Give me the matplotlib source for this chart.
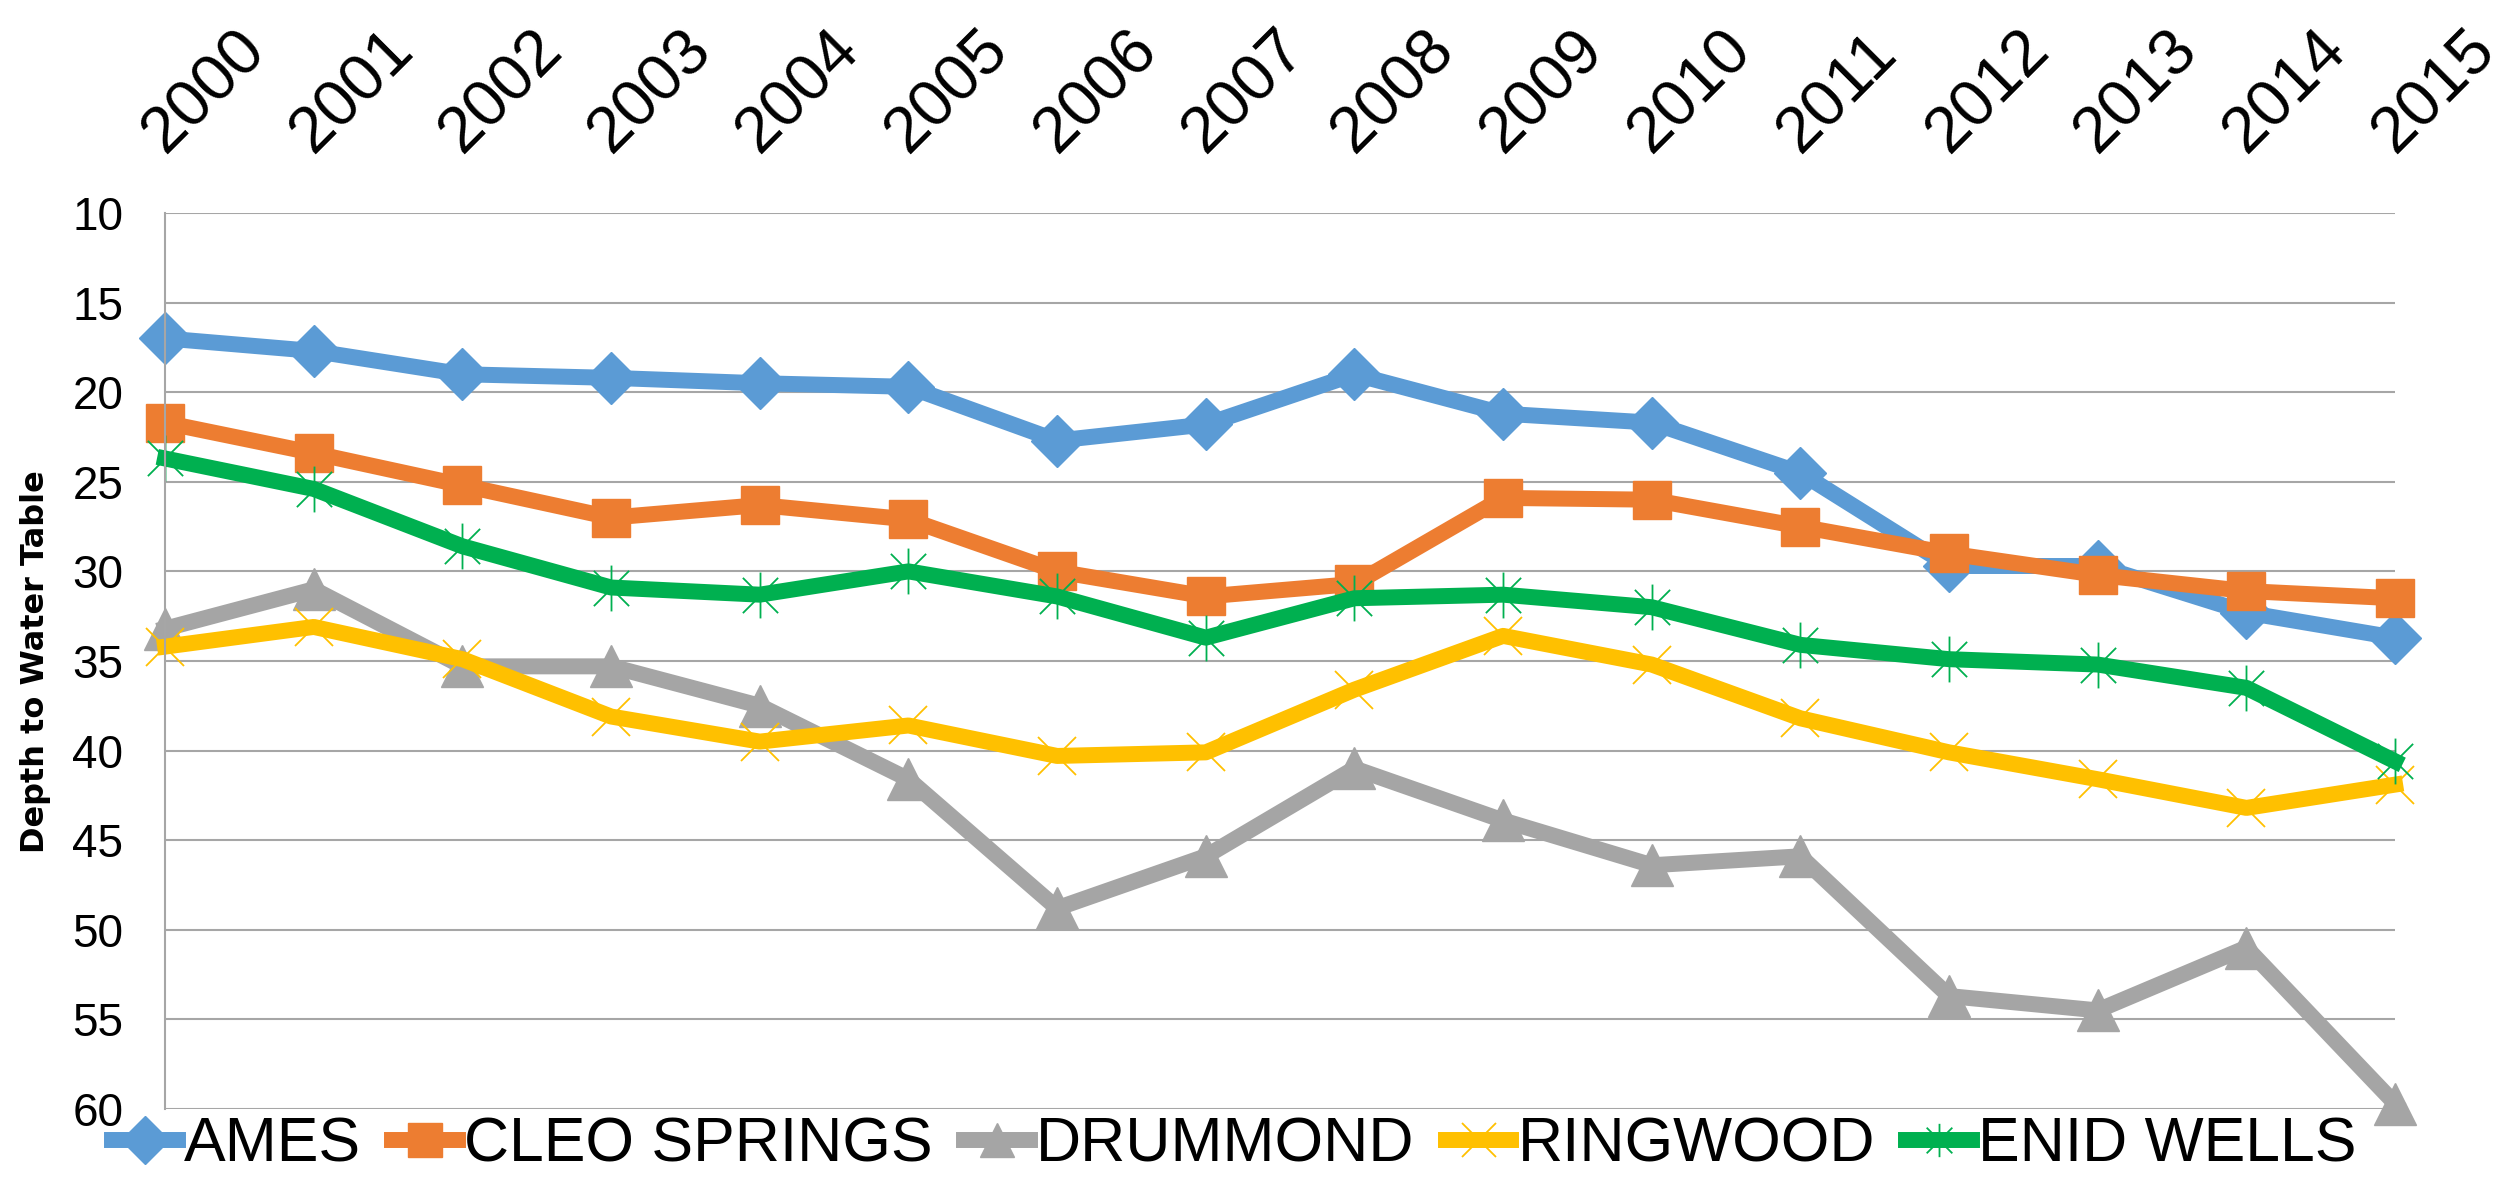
import numpy as np
import matplotlib
matplotlib.use("Agg")
import matplotlib.pyplot as plt
from matplotlib.path import Path

# Datos (profundidad al nivel freático)
years = list(range(2000, 2016))
ames = [17.0, 17.7, 19.0, 19.2, 19.5, 19.7, 22.7, 21.8, 19.0, 21.2, 21.7, 24.5,
        29.7, 29.7, 32.3, 33.7]
cleo_springs = [21.7, 23.4, 25.2, 27.0, 26.3, 27.1, 30.0, 31.4, 30.7, 25.9, 26.0, 27.5,
                29.0, 30.2, 31.1, 31.5]
drummond = [33.2, 31.0, 35.3, 35.3, 37.5, 41.6, 48.8, 45.9, 41.0, 43.9, 46.4, 45.9,
            53.7, 54.5, 51.0, 59.7]
ringwood = [34.2, 33.1, 34.9, 38.1, 39.5, 38.6, 40.3, 40.1, 36.6, 33.6, 35.2, 38.2,
            40.1, 41.6, 43.2, 41.9]
enid_wells = [23.7, 25.4, 28.6, 30.9, 31.3, 30.0, 31.4, 33.7, 31.5, 31.3, 32.0, 34.1,
              34.9, 35.2, 36.5, 40.6]
series_names = ["AMES", "CLEO SPRINGS", "DRUMMOND", "RINGWOOD", "ENID WELLS"]
yticks = list(range(10, 65, 5))

# Marcador asterisco estilo Excel (X + línea vertical)
asterisk = Path([(-1, -1), (1, 1), (-1, 1), (1, -1), (0, -1.3), (0, 1.3)],
                [Path.MOVETO, Path.LINETO, Path.MOVETO, Path.LINETO, Path.MOVETO, Path.LINETO])

font = "Liberation Sans"

fig = plt.figure(figsize=(25.09, 11.82), dpi=100)
ax = fig.add_axes([0.0658, 0.0618, 0.8888, 0.758])

styles = [
    (ames, "#5B9BD5", dict(marker="D", markersize=26)),
    (cleo_springs, "#ED7D31", dict(marker="s", markersize=27)),
    (drummond, "#A5A5A5", dict(marker="^", markersize=30)),
    (ringwood, "#FFC000", dict(marker="x", markersize=27, markeredgewidth=1.3)),
    (enid_wells, "#00B050", dict(marker=asterisk, markersize=33, markeredgewidth=1.3,
                                 fillstyle="none")),
]
for (vals, col, mk), name in zip(styles, series_names):
    ax.plot(years, vals, color=col, lw=11.5, label=name, clip_on=False,
            markerfacecolor=col, markeredgecolor=col, **mk)

ax.set_xlim(2000, 2015)
ax.set_ylim(60, 10)
ax.set_yticks(yticks)
ax.set_xticks(years)
ax.xaxis.tick_top()
ax.set_xticklabels([str(y) for y in years], rotation=45, ha="left", va="baseline",
                   rotation_mode="anchor", fontsize=47, family=font)
ax.tick_params(axis="x", length=0, pad=42)
ax.tick_params(axis="y", length=0, pad=30, labelsize=33)
for lab in ax.get_yticklabels():
    lab.set_family(font)

ax.grid(axis="y", color="#A6A6A6", lw=1.5)
ax.set_axisbelow(True)
for s in ["top", "right", "bottom"]:
    ax.spines[s].set_visible(False)
ax.spines["left"].set_color("#A6A6A6")
ax.spines["left"].set_linewidth(1.5)

fig.text(0.014, 0.44, "Depth to Water Table", rotation=90, ha="center", va="center",
         fontsize=23, fontweight="bold", family="DejaVu Sans")

leg = fig.legend(loc="center", bbox_to_anchor=(0.492, 0.031), ncol=5, frameon=False,
                 prop={"family": font, "size": 45}, handlelength=1.05,
                 handletextpad=0.1, columnspacing=0.5, borderpad=0, borderaxespad=0)
for h in leg.legend_handles:
    h.set_markersize(24)

fig.savefig("out.png", dpi=100)
